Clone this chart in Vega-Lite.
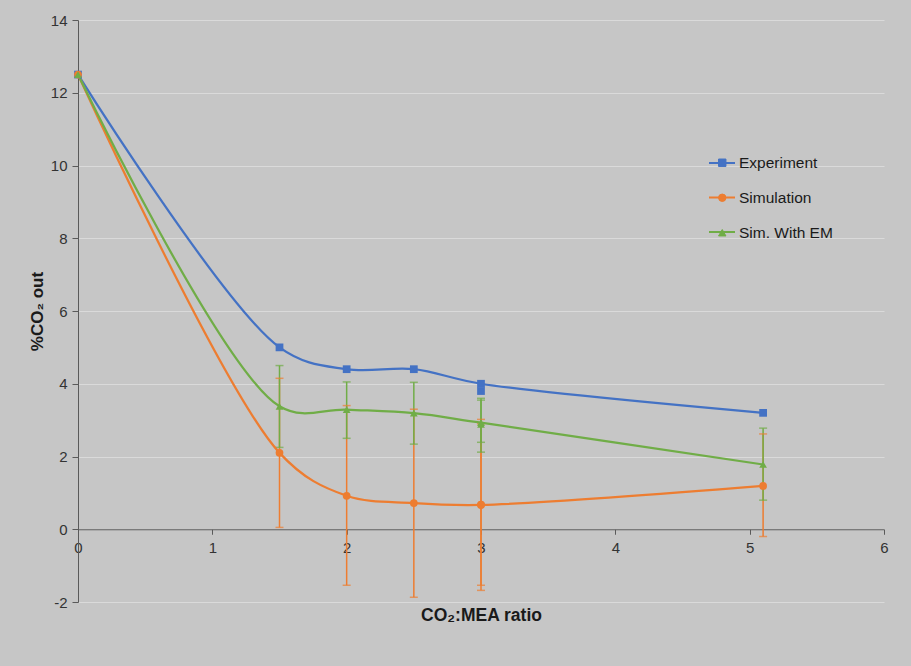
{
  "$schema": "https://vega.github.io/schema/vega-lite/v6.json",
  "width": 806,
  "height": 582,
  "autosize": {"type": "none"},
  "padding": {"left": 78, "top": 20, "right": 27, "bottom": 64},
  "background": "#c6c6c6",
  "config": {
    "view": {"stroke": null},
    "font": "Liberation Sans",
    "axis": {"labelFont": "Liberation Sans", "titleFont": "Liberation Sans"}
  },
  "datasets": {
    "pts": [
      {"s": "Experiment", "x": 0, "y": 12.5, "line": true},
      {"s": "Experiment", "x": 1.5, "y": 5.0, "line": true},
      {"s": "Experiment", "x": 2, "y": 4.4, "line": true},
      {"s": "Experiment", "x": 2.5, "y": 4.4, "line": true},
      {"s": "Experiment", "x": 3, "y": 4.0, "line": true},
      {"s": "Experiment", "x": 3, "y": 3.8, "line": false},
      {"s": "Experiment", "x": 5.1, "y": 3.2, "line": true},
      {"s": "Simulation", "x": 0, "y": 12.5, "line": true},
      {"s": "Simulation", "x": 1.5, "y": 2.1, "line": true},
      {"s": "Simulation", "x": 2, "y": 0.92, "line": true},
      {"s": "Simulation", "x": 2.5, "y": 0.72, "line": true},
      {"s": "Simulation", "x": 3, "y": 0.67, "line": true},
      {"s": "Simulation", "x": 3, "y": 0.68, "line": false},
      {"s": "Simulation", "x": 5.1, "y": 1.19, "line": true},
      {"s": "Sim. With EM", "x": 0, "y": 12.5, "line": true},
      {"s": "Sim. With EM", "x": 1.5, "y": 3.38, "line": true},
      {"s": "Sim. With EM", "x": 2, "y": 3.29, "line": true},
      {"s": "Sim. With EM", "x": 2.5, "y": 3.19, "line": true},
      {"s": "Sim. With EM", "x": 3, "y": 2.93, "line": true},
      {"s": "Sim. With EM", "x": 3, "y": 2.88, "line": false},
      {"s": "Sim. With EM", "x": 5.1, "y": 1.78, "line": true}
    ],
    "err": [
      {"s": "Simulation", "x": 1.5, "lo": 0.05, "hi": 4.15},
      {"s": "Simulation", "x": 2, "lo": -1.54, "hi": 3.4},
      {"s": "Simulation", "x": 2.5, "lo": -1.87, "hi": 3.3},
      {"s": "Simulation", "x": 3, "lo": -1.54, "hi": 2.9},
      {"s": "Simulation", "x": 3, "lo": -1.68, "hi": 3.02},
      {"s": "Simulation", "x": 5.1, "lo": -0.2, "hi": 2.62},
      {"s": "Sim. With EM", "x": 1.5, "lo": 2.25, "hi": 4.5},
      {"s": "Sim. With EM", "x": 2, "lo": 2.5, "hi": 4.05},
      {"s": "Sim. With EM", "x": 2.5, "lo": 2.34, "hi": 4.04},
      {"s": "Sim. With EM", "x": 3, "lo": 2.39, "hi": 3.55},
      {"s": "Sim. With EM", "x": 3, "lo": 2.12, "hi": 3.6},
      {"s": "Sim. With EM", "x": 5.1, "lo": 0.8, "hi": 2.78}
    ]
  },
  "encoding": {
    "x": {
      "field": "x", "type": "quantitative",
      "scale": {"domain": [0, 6], "nice": false, "zero": false},
      "axis": {
        "title": "CO₂:MEA ratio", "titleFontSize": 17.5, "titleFontWeight": "bold", "titleColor": "#1a1a1a",
        "titlePadding": 51, "offset": -72.75, "values": [0, 1, 2, 3, 4, 5, 6], "format": "d", "labelFlush": false,
        "grid": false, "domainColor": "#5a5a5a", "tickColor": "#5a5a5a", "tickSize": 5,
        "labelFontSize": 15, "labelColor": "#333333", "labelPadding": 6
      }
    },
    "color": {
      "field": "s", "type": "nominal",
      "scale": {"domain": ["Experiment", "Simulation", "Sim. With EM"], "range": ["#4472C4", "#ED7D31", "#70AD47"]},
      "legend": {
        "title": null, "orient": "none", "legendX": 636.5, "legendY": 135,
        "labelFontSize": 15.5, "labelColor": "#1a1a1a", "labelFont": "Liberation Sans", "labelOffset": 9,
        "symbolSize": 55, "rowPadding": 18, "symbolStrokeWidth": 1, "symbolOpacity": 1
      }
    }
  },
  "layer": [
    {
      "data": {"name": "err"},
      "mark": {"type": "rule", "strokeWidth": 1.5},
      "encoding": {
        "y": {
          "field": "lo", "type": "quantitative",
          "scale": {"domain": [-2, 14], "nice": false, "zero": false},
          "axis": {
            "title": "%CO₂ out", "titleFontSize": 17, "titleFontWeight": "bold", "titleColor": "#1a1a1a", "titlePadding": 4,
            "values": [-2, 0, 2, 4, 6, 8, 10, 12, 14], "labelExpr": "'' + datum.value",
            "grid": true, "gridColor": "#dadada", "gridWidth": 1.2,
            "domainColor": "#5a5a5a", "tickColor": "#5a5a5a", "tickSize": 6,
            "labelFontSize": 15, "labelColor": "#333333", "labelPadding": 5
          }
        },
        "y2": {"field": "hi"}
      }
    },
    {
      "data": {"name": "err"},
      "mark": {"type": "tick", "orient": "horizontal", "size": 8, "thickness": 1.5},
      "encoding": {"y": {"field": "lo", "type": "quantitative"}}
    },
    {
      "data": {"name": "err"},
      "mark": {"type": "tick", "orient": "horizontal", "size": 8, "thickness": 1.5},
      "encoding": {"y": {"field": "hi", "type": "quantitative"}}
    },
    {
      "data": {"name": "pts"},
      "transform": [{"filter": "datum.line"}],
      "mark": {"type": "line", "interpolate": "catmull-rom", "strokeWidth": 2.25},
      "encoding": {
        "y": {"field": "y", "type": "quantitative"},
        "color": {"value": null},
        "stroke": {
          "field": "s", "type": "nominal",
          "sort": ["Experiment", "Simulation", "Sim. With EM"],
          "scale": {"range": ["#4472C4", "#ED7D31", "#70AD47"]},
          "legend": {
            "title": null, "orient": "none", "legendX": 630, "legendY": 129,
            "labelFontSize": 15.5, "labelColor": "transparent", "labelFont": "Liberation Sans", "labelOffset": 3,
            "labelExpr": "' '",
            "symbolType": "stroke", "symbolSize": 676, "rowPadding": 11.5, "symbolStrokeWidth": 2, "symbolOpacity": 1
          }
        }
      }
    },
    {
      "data": {"name": "pts"},
      "mark": {"type": "point", "filled": true, "opacity": 1, "strokeWidth": 0.8},
      "encoding": {
        "y": {"field": "y", "type": "quantitative"},
        "shape": {
          "field": "s", "type": "nominal",
          "scale": {"domain": ["Experiment", "Simulation", "Sim. With EM"], "range": ["square", "circle", "triangle-up"]},
          "legend": null
        },
        "size": {"value": 60}
      }
    }
  ]
}
